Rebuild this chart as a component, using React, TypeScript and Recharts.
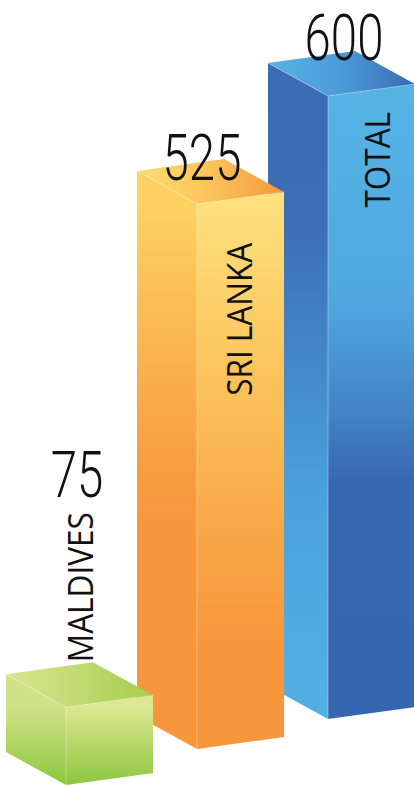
import React from "react";
import { BarChart, Bar, XAxis, YAxis } from "recharts";

// ---- data ----
const categories = ["MALDIVES", "SRI LANKA", "TOTAL"];
const values = [75, 525, 600];
const yDomain: [number, number] = [0, 600];

// ---- styles / layout constants ----
const LEFT_W = 60; // width of the left (side) face
const RIGHT_W = 87; // width of the right (front) face
const LEFT_DROP = 33; // how much the top edge drops across the left face
const RIGHT_RISE = 12; // how much the top edge rises across the right face
const FRONT_OFFSET = 62; // front corner x from band start
const FLOOR_LIFT = [0, 36, 66]; // depth stagger of each bar's floor
const NAME_FONT = "'Open Sans', 'DejaVu Sans', sans-serif";
const NUM_FONT = "Roboto, 'Open Sans', sans-serif";

// per-bar label placement, relative to the cube's front-top corner
const LABEL_LAYOUT = [
  { nameX: 27, nameY: -45, numX: 11, numGap: 15 }, // label sits above the cube
  { nameX: 55, nameY: 39, numX: 5, numGap: 24 }, // label inside the front face
  { nameX: 62, nameY: 16, numX: 16, numGap: 36 },
];

type Stop = [number, string];
const THEMES: { top: Stop[]; left: Stop[]; right: Stop[] }[] = [
  {
    top: [[0, "#d9e692"], [0.5, "#c0da72"], [1, "#a6cd4b"]],
    left: [[0, "#d0e287"], [1, "#8dc63f"]],
    right: [[0, "#dde691"], [1, "#8cc63f"]],
  },
  {
    top: [[0, "#fedd73"], [0.5, "#fbc35a"], [1, "#f7983a"]],
    left: [[0, "#fdd263"], [0.17, "#fbbf55"], [0.45, "#f8a141"], [0.6, "#f7963a"], [1, "#f7963a"]],
    right: [[0, "#fee07c"], [0.36, "#fbbf57"], [0.64, "#f8a443"], [0.82, "#f7963a"], [1, "#f7963a"]],
  },
  {
    top: [[0, "#56b3e6"], [0.5, "#4b9bd6"], [1, "#3a6ab3"]],
    left: [[0, "#3b6cb4"], [0.2, "#3c6eb5"], [0.4, "#4285c6"], [0.65, "#4ba2da"], [1, "#53b0e4"]],
    right: [[0, "#56b3e6"], [0.33, "#4fa7de"], [0.5, "#4385c7"], [0.62, "#3867b1"], [1, "#3766b0"]],
  },
];

const data = categories
  .map((name, i) => ({ name, value: values[i], order: i }))
  .reverse(); // draw back bars first so front cubes overlap them

function pts(list: number[][]) {
  return list.map((p) => p.join(",")).join(" ");
}

function Cube(props: any) {
  const { x, y, height, payload } = props;
  const i: number = payload.order;
  const theme = THEMES[i];
  const lay = LABEL_LAYOUT[i];
  const lift = FLOOR_LIFT[i];
  const top = y - lift;
  const base = y + height - lift;
  const fx = x + FRONT_OFFSET;
  const id = `cube${i}`;

  const left = [
    [fx - LEFT_W, top - LEFT_DROP],
    [fx, top],
    [fx, base],
    [fx - LEFT_W, base - LEFT_DROP],
  ];
  const right = [
    [fx, top],
    [fx + RIGHT_W, top - RIGHT_RISE],
    [fx + RIGHT_W, base - RIGHT_RISE],
    [fx, base],
  ];
  const topFace = [
    [fx - LEFT_W, top - LEFT_DROP],
    [fx, top],
    [fx + RIGHT_W, top - RIGHT_RISE],
    [fx + RIGHT_W - LEFT_W, top - RIGHT_RISE - LEFT_DROP],
  ];

  const short = height < 200;
  const nameScale = 0.9;
  const nameLen = payload.name.length * 18.8;
  const nameX = fx + lay.nameX;
  const nameY = top + lay.nameY;
  const numBase = short ? nameY - nameLen - lay.numGap : top - lay.numGap;

  const label = (
    <text
      transform={`translate(${nameX},${nameY}) rotate(-90) scale(${nameScale},1)`}
      textAnchor={short ? "start" : "end"}
      fontSize={35}
      fontWeight={500}
      fontFamily={NAME_FONT}
      fill="#111"
    >
      {payload.name}
    </text>
  );
  const number = (
    <text
      transform={`translate(${fx + lay.numX},${numBase}) scale(0.74,1)`}
      textAnchor="middle"
      fontSize={64}
      fontWeight={300}
      fontFamily={NUM_FONT}
      fill="#111"
    >
      {payload.value}
    </text>
  );

  return (
    <g>
      <defs>
        <linearGradient id={`${id}-top`} gradientUnits="userSpaceOnUse" x1={fx - LEFT_W} y1={0} x2={fx + RIGHT_W} y2={0}>
          {theme.top.map(([o, c]) => (
            <stop key={o} offset={o} stopColor={c} />
          ))}
        </linearGradient>
        <linearGradient id={`${id}-left`} gradientUnits="userSpaceOnUse" x1={0} y1={top} x2={0} y2={base}>
          {theme.left.map(([o, c]) => (
            <stop key={o} offset={o} stopColor={c} />
          ))}
        </linearGradient>
        <linearGradient id={`${id}-right`} gradientUnits="userSpaceOnUse" x1={0} y1={top} x2={0} y2={base}>
          {theme.right.map(([o, c]) => (
            <stop key={o} offset={o} stopColor={c} />
          ))}
        </linearGradient>
      </defs>
      <polygon points={pts(left)} fill={`url(#${id}-left)`} />
      <polygon points={pts(right)} fill={`url(#${id}-right)`} />
      <polygon points={pts(topFace)} fill={`url(#${id}-top)`} />
      <line x1={fx} y1={top} x2={fx} y2={base} stroke="rgba(255,255,255,0.45)" strokeWidth={0.8} />
      <polyline
        points={pts([[fx - LEFT_W, top - LEFT_DROP], [fx, top], [fx + RIGHT_W, top - RIGHT_RISE]])}
        fill="none"
        stroke="rgba(255,255,255,0.35)"
        strokeWidth={0.8}
      />
      {label}
      {number}
    </g>
  );
}

export default function App() {
  return (
    <div style={{ position: "absolute", left: 0, top: 0, width: 414, height: 785, background: "#fff" }}>
      <BarChart
        width={414}
        height={785}
        data={data}
        margin={{ top: 162, right: 17, bottom: 0, left: 4 }}
        barCategoryGap={0}
      >
        <XAxis dataKey="name" type="category" reversed hide />
        <YAxis type="number" domain={yDomain} hide />
        <Bar dataKey="value" shape={Cube} isAnimationActive={false} />
      </BarChart>
    </div>
  );
}
